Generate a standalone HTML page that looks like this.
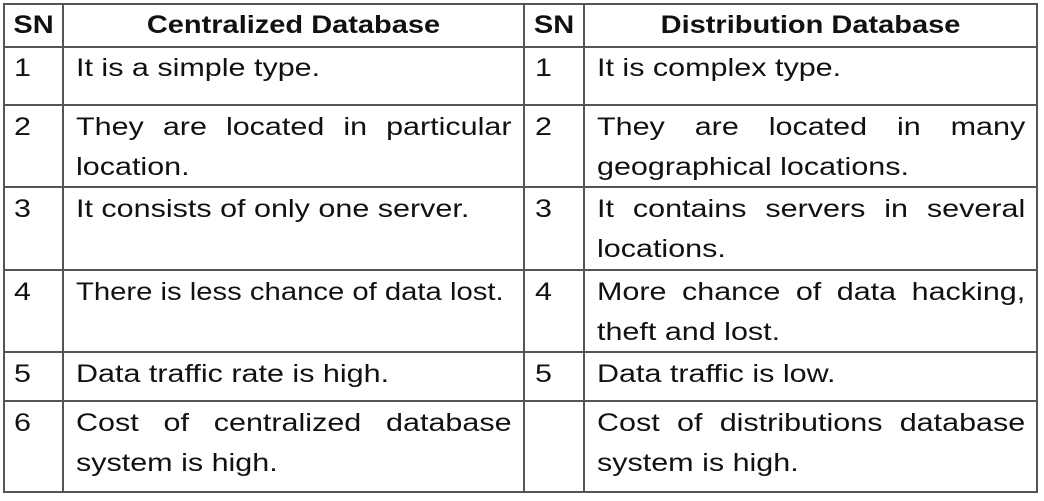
<!DOCTYPE html>
<html><head><meta charset="utf-8"><style>
body{margin:0;width:1044px;height:501px;background:#fff;position:relative;overflow:hidden;font-family:"Liberation Sans",sans-serif;color:#111;}
.l{position:absolute;background:#555;}
.c{position:absolute;font-size:25px;line-height:40px;text-align:justify;text-align-last:left;transform:scaleX(1.22);transform-origin:left top;white-space:normal;}
.h{position:absolute;font-size:25px;font-weight:bold;text-align:center;line-height:44px;top:3px;transform:scaleX(1.16);transform-origin:center top;}
</style></head><body>
<div class="l" style="left:3px;top:3px;width:1035px;height:2px"></div>
<div class="l" style="left:3px;top:46px;width:1035px;height:2px"></div>
<div class="l" style="left:3px;top:104px;width:1035px;height:2px"></div>
<div class="l" style="left:3px;top:186px;width:1035px;height:2px"></div>
<div class="l" style="left:3px;top:269px;width:1035px;height:2px"></div>
<div class="l" style="left:3px;top:351px;width:1035px;height:2px"></div>
<div class="l" style="left:3px;top:400px;width:1035px;height:2px"></div>
<div class="l" style="left:3px;top:491px;width:1035px;height:2px"></div>
<div class="l" style="left:3px;top:3px;width:2px;height:490px"></div>
<div class="l" style="left:62px;top:3px;width:2px;height:490px"></div>
<div class="l" style="left:523px;top:3px;width:2px;height:490px"></div>
<div class="l" style="left:583px;top:3px;width:2px;height:490px"></div>
<div class="l" style="left:1036px;top:3px;width:2px;height:490px"></div>

<div class="h" style="left:5px;width:57px">SN</div>
<div class="h" style="left:64px;width:459px">Centralized Database</div>
<div class="h" style="left:525px;width:58px">SN</div>
<div class="h" style="left:585px;width:451px">Distribution Database</div>

<div class="c" style="left:14px;top:48px">1</div>
<div class="c" style="left:76px;top:48px;width:357px">It is a simple type.</div>
<div class="c" style="left:535px;top:48px">1</div>
<div class="c" style="left:597px;top:48px;width:351px">It is complex type.</div>

<div class="c" style="left:14px;top:107px">2</div>
<div class="c" style="left:76px;top:107px;width:357px">They are located in particular location.</div>
<div class="c" style="left:535px;top:107px">2</div>
<div class="c" style="left:597px;top:107px;width:351px">They are located in many geographical locations.</div>

<div class="c" style="left:14px;top:189px">3</div>
<div class="c" style="left:76px;top:189px;width:360px">It consists of only one server.</div>
<div class="c" style="left:535px;top:189px">3</div>
<div class="c" style="left:597px;top:189px;width:351px">It contains servers in several locations.</div>

<div class="c" style="left:14px;top:272px">4</div>
<div class="c" style="left:76px;top:272px;white-space:nowrap;transform:scaleX(1.17)">There is less chance of data lost.</div>
<div class="c" style="left:535px;top:272px">4</div>
<div class="c" style="left:597px;top:272px;width:351px">More chance of data hacking, theft and lost.</div>

<div class="c" style="left:14px;top:354px">5</div>
<div class="c" style="left:76px;top:354px;width:357px">Data traffic rate is high.</div>
<div class="c" style="left:535px;top:354px">5</div>
<div class="c" style="left:597px;top:354px;width:351px">Data traffic is low.</div>

<div class="c" style="left:14px;top:403px">6</div>
<div class="c" style="left:76px;top:403px;width:357px">Cost of centralized database system is high.</div>
<div class="c" style="left:597px;top:403px;width:351px">Cost of distributions database system is high.</div>
</body></html>
